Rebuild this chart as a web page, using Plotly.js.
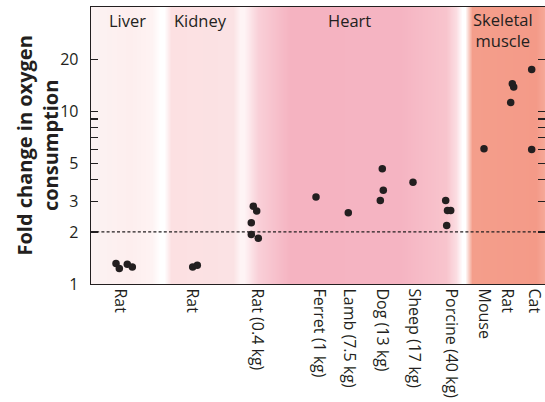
<!DOCTYPE html>
<html>
<head>
<meta charset="utf-8">
<script src="https://cdn.plot.ly/plotly-3.0.1.min.js"></script>
<style>html,body{margin:0;padding:0;background:#fff;}#chart{width:545px;height:402px;}</style>
</head>
<body>
<div id="chart"></div>
<script>
// Category tick labels and their positions on the x scale
const catLabels = ['Rat', 'Rat', 'Rat (0.4 kg)', 'Ferret (1 kg)', 'Lamb (7.5 kg)', 'Dog (13 kg)', 'Sheep (17 kg)', 'Porcine (40 kg)', 'Mouse', 'Rat', 'Cat'];
const catX = [12.05, 19.2, 25.7, 31.9, 34.9, 38.2, 41.4, 45.1, 48.4, 50.7, 53.4];

// Tissue groups
const tissueLabels = ['Liver', 'Kidney', 'Heart', 'Skeletal<br>muscle'];
const tissueX = [12.75, 20.05, 34.9, 50.3];

// Individual measurements (fold change in oxygen consumption)
const pointX = [11.6, 11.93, 12.73, 13.23,
  19.27, 19.73,
  25.33, 25.67, 25.13, 25.13, 25.83,
  31.6,
  34.83,
  38.23, 38.33, 38.03,
  41.3,
  44.57, 44.75, 45.07, 44.67,
  48.4,
  51.23, 51.37, 51.07,
  53.17, 53.17];
const pointY = [1.314, 1.229, 1.302, 1.256,
  1.256, 1.285,
  2.82, 2.64, 2.26, 1.934, 1.84,
  3.19,
  2.58,
  4.64, 3.48, 3.04,
  3.88,
  3.04, 2.66, 2.66, 2.18,
  6.05,
  14.4, 13.8, 11.2,
  17.4, 6.0];

// Reference level (dashed line)
const threshold = 2;

// Y axis ticks
const yTickVals = [1, 2, 3, 4, 5, 6, 7, 8, 9, 10, 20];
const yTickText = ['1', '2', '3', '', '5', '', '', '', '', '10', '20'];

// Background band colour stops
const bgX = [9.0, 9.3, 13.0, 15.2, 16.0, 16.4, 17.1, 23.3, 24.0, 24.4, 25.8, 29.0, 40.0, 44.6, 45.6, 46.2, 46.5, 47.2, 53.6, 54.6];
const bgColors = ['#fcf2f2', '#fcf2f2', '#fdeeee', '#fef3f3', '#ffffff', '#ffffff', '#fce0e2', '#fbe2e4', '#fef4f5', '#fef4f5', '#f9d0d8', '#f5b3c1', '#f5b4c2', '#f8c4cd', '#fbdde2', '#ffffff', '#ffffff', '#f49e8b', '#f49a88', '#f6ab9b'];

const ink = '#231f20';
const n = bgX.length;
const bgZrow = bgX.map((_, i) => i / (n - 1));
const bgScale = bgColors.map((c, i) => [i / (n - 1), c]);

const traces = [
  {
    type: 'heatmap',
    x: bgX,
    y: [0.5, 80],
    z: [bgZrow, bgZrow],
    zmin: 0, zmax: 1,
    colorscale: bgScale,
    zsmooth: 'best',
    showscale: false,
    hoverinfo: 'skip'
  },
  {
    type: 'scatter',
    mode: 'markers',
    x: pointX,
    y: pointY,
    marker: {color: ink, size: 7.5, line: {width: 0}},
    hoverinfo: 'y'
  }
];

const annotations = tissueLabels.map((t, i) => ({
  text: t,
  x: tissueX[i],
  xref: 'x',
  y: i === 3 ? 0.918 : 0.952,
  yref: 'paper',
  xanchor: 'center',
  yanchor: 'middle',
  showarrow: false,
  font: {family: 'Open Sans', size: 16.5, color: ink}
}));
annotations.push({
  text: 'Fold change in oxygen<br>consumption',
  textangle: -90,
  x: 0, xref: 'paper', xshift: -54,
  y: 0.5, yref: 'paper',
  xanchor: 'center', yanchor: 'middle',
  showarrow: false,
  font: {family: 'Open Sans', size: 20, color: ink, weight: 'bold'}
});

const layout = {
  width: 545,
  height: 402,
  margin: {l: 91, r: 0, t: 7, b: 118},
  paper_bgcolor: '#ffffff',
  plot_bgcolor: '#ffffff',
  showlegend: false,
  font: {family: 'Open Sans', color: ink},
  xaxis: {
    type: 'linear',
    range: [9.1, 54.5],
    tickmode: 'array',
    tickvals: catX,
    ticktext: catLabels,
    tickangle: 90,
    ticks: '',
    ticklabeloverflow: 'allow',
    showgrid: false,
    zeroline: false,
    showline: true,
    linecolor: ink,
    linewidth: 1.3,
    mirror: true,
    tickfont: {family: 'Open Sans', size: 16, color: ink}
  },
  yaxis: {
    type: 'log',
    range: [0, Math.log10(40)],
    tickmode: 'array',
    tickvals: yTickVals,
    ticktext: yTickText,
    ticks: 'inside',
    ticklen: 7,
    tickwidth: 1.1,
    tickcolor: ink,
    showgrid: false,
    zeroline: false,
    showline: true,
    linecolor: ink,
    linewidth: 1.3,
    mirror: 'allticks',
    ticklabelstandoff: 8,
    tickfont: {family: 'Open Sans', size: 16, color: ink}
  },
  shapes: [{
    type: 'line',
    xref: 'paper', x0: 0, x1: 1,
    yref: 'y', y0: threshold, y1: threshold,
    line: {color: ink, width: 1.2, dash: '3px,2.2px'},
    layer: 'above'
  }],
  annotations: annotations
};

Plotly.newPlot('chart', traces, layout, {staticPlot: true, displayModeBar: false});
</script>
</body>
</html>
